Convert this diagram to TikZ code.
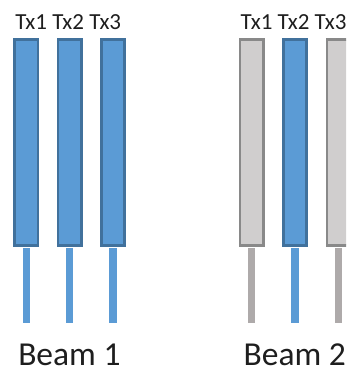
\documentclass[tikz,border=0pt]{standalone}
\usepackage{fontspec}
\setmainfont{Carlito}
\definecolor{bfill}{HTML}{5B9BD5}
\definecolor{bdraw}{HTML}{41719C}
\definecolor{gfill}{HTML}{D0CECE}
\definecolor{gdraw}{HTML}{898989}
\definecolor{gstem}{HTML}{AEAAAA}
\definecolor{txtc}{HTML}{1E1E1E}
\begin{document}
\begin{tikzpicture}[x=1pt,y=-1pt,
  antenna/.style={rectangle,inner sep=0pt,line width=2.7pt,minimum width=23.3pt,minimum height=205.7pt},
  onbox/.style={antenna,fill=bfill,draw=bdraw},
  offbox/.style={antenna,fill=gfill,draw=gdraw},
  stem/.style={line width=7.5pt,shorten <=1.35pt},
  onstem/.style={stem,draw=bfill},
  offstem/.style={stem,draw=gstem},
  txlabel/.style={anchor=base,inner sep=0pt,text=txtc,font=\fontsize{23}{23}\selectfont},
  beamlabel/.style={anchor=base,inner sep=0pt,text depth=0pt,text=txtc,font=\fontsize{33.5}{33.5}\selectfont}]
\useasboundingbox (0,0) rectangle (346,369);
\clip (0,0) rectangle (346,369);
% Beam 1
\node[onbox] (a1) at (26.3,142.5) {};
\node[onbox] (a2) at (69.7,142.5) {};
\node[onbox] (a3) at (113,142.5) {};
\coordinate (sa1) at (26.3,322.7);
\coordinate (sa2) at (69.7,322.7);
\coordinate (sa3) at (113,322.7);
\draw[onstem] (a1.south) -- (sa1);
\draw[onstem] (a2.south) -- (sa2);
\draw[onstem] (a3.south) -- (sa3);
\node[txlabel] (ta) at (68.2,29.5) {Tx1 Tx2 Tx3};
\node[beamlabel] (beam1) at (69.4,365.5) {Beam 1};
% Beam 2
\node[offbox] (b1) at (251.7,142.5) {};
\node[onbox] (b2) at (295.1,142.5) {};
\node[offbox] (b3) at (338.5,142.5) {};
\coordinate (sb1) at (251.7,322.7);
\coordinate (sb2) at (295.1,322.7);
\coordinate (sb3) at (338.5,322.7);
\draw[offstem] (b1.south) -- (sb1);
\draw[onstem] (b2.south) -- (sb2);
\draw[offstem] (b3.south) -- (sb3);
\node[txlabel] (tb) at (293.6,29.5) {Tx1 Tx2 Tx3};
\node[beamlabel] (beam2) at (294.8,365.5) {Beam 2};
\end{tikzpicture}
\end{document}
